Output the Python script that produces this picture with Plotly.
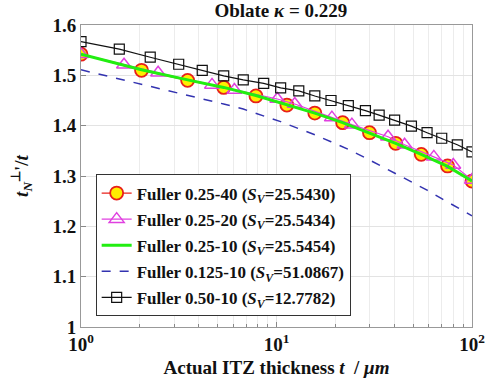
import plotly.graph_objects as go

# ---- data ----
t_c = [1, 2.04, 3.51, 5.37, 7.85, 11.3, 15.7, 21.8, 29.9, 40.7, 55, 75, 100]
y_c = [1.542, 1.510, 1.490, 1.476, 1.459, 1.441, 1.425, 1.406, 1.386, 1.365, 1.343, 1.320, 1.290]

t_tri = [1, 1.66, 2.48, 4.68, 6.09, 10.1, 12.4, 19.2, 24.3, 37.2, 45.2, 63.8, 80.2, 100]
y_tri = [1.542, 1.521, 1.505, 1.481, 1.471, 1.453, 1.443, 1.416, 1.402, 1.378, 1.362, 1.338, 1.322, 1.292]

t_g = [1, 2.04, 3.51, 5.37, 7.85, 11.3, 15.7, 21.8, 29.9, 40.7, 55, 75, 100]
y_g = [1.542, 1.511, 1.491, 1.476, 1.460, 1.442, 1.425, 1.406, 1.386, 1.365, 1.343, 1.319, 1.290]

t_sq = [1, 1.57, 2.26, 3.16, 4.17, 5.37, 6.76, 8.6, 10.5, 13.0, 15.7, 19.0, 23.3,
        28.5, 33.5, 40.2, 49.0, 58.9, 70.0, 84.1, 100]
y_sq = [1.567, 1.552, 1.536, 1.522, 1.510, 1.499, 1.491, 1.484, 1.475, 1.469, 1.459,
        1.450, 1.440, 1.430, 1.421, 1.411, 1.399, 1.386, 1.375, 1.362, 1.348]
y_d = [1.511, 1.493, 1.479, 1.465, 1.454, 1.443, 1.433, 1.420, 1.408, 1.394, 1.382,
       1.368, 1.353, 1.336, 1.322, 1.306, 1.289, 1.272, 1.255, 1.238, 1.221]

names = [
    "<b>Fuller 0.25-40 (<i>S</i><sub><i>V</i></sub>=25.5430)</b>",
    "<b>Fuller 0.25-20 (<i>S</i><sub><i>V</i></sub>=25.5434)</b>",
    "<b>Fuller 0.25-10 (<i>S</i><sub><i>V</i></sub>=25.5454)</b>",
    "<b>Fuller 0.125-10 (<i>S</i><sub><i>V</i></sub>=51.0867)</b>",
    "<b>Fuller 0.50-10 (<i>S</i><sub><i>V</i></sub>=12.7782)</b>",
]

FONT = "Liberation Serif"

fig = go.Figure()
fig.add_trace(go.Scatter(x=t_c, y=y_c, name=names[0], legendgroup="a", mode="lines+markers",
                         line=dict(color="#e8201a", width=1.2),
                         marker=dict(symbol="circle", size=13, color="#ffee00",
                                     line=dict(color="#e8201a", width=1.8))))
fig.add_trace(go.Scatter(x=t_tri, y=y_tri, name=names[1], legendgroup="b", mode="lines+markers",
                         line=dict(color="#e040e0", width=1.2),
                         marker=dict(symbol="triangle-up-open", size=13, color="#e040e0",
                                     line=dict(width=1.5))))
fig.add_trace(go.Scatter(x=t_g, y=y_g, name=names[2], legendgroup="c", mode="lines",
                         line=dict(color="#22ee11", width=3)))
fig.add_trace(go.Scatter(x=t_sq, y=y_d, name=names[3], legendgroup="d", mode="lines",
                         line=dict(color="#3333b0", width=1.5, dash="dash")))
fig.add_trace(go.Scatter(x=t_sq, y=y_sq, name=names[4], legendgroup="e", mode="lines+markers",
                         line=dict(color="#111111", width=1.2),
                         marker=dict(symbol="square-open", size=10, color="#111111",
                                     line=dict(width=1.2))))

fig.update_layout(
    width=497, height=387,
    margin=dict(l=81, r=16, t=25, b=60),
    paper_bgcolor="white", plot_bgcolor="white",
    font=dict(family=FONT, size=19, color="#111"),
    title=dict(text="<b>Oblate <i>κ</i> = 0.229</b>", x=0.565, xanchor="center",
               y=0.99, yanchor="top", font=dict(size=19)),
    showlegend=True,
    legend=dict(x=0.0375, y=0.505, xanchor="left", yanchor="top",
                bgcolor="white", bordercolor="#333", borderwidth=1,
                font=dict(family=FONT, size=17, color="#111"),
                tracegroupgap=1, itemwidth=30),
)
fig.update_xaxes(type="log", range=[0, 2],
                 tickvals=[1, 10, 100],
                 ticktext=["<b>10<sup>0</sup></b>", "<b>10<sup>1</sup></b>", "<b>10<sup>2</sup></b>"],
                 ticks="inside", ticklen=5, tickcolor="#888",
                 showgrid=True, gridcolor="#e3e3e3", gridwidth=1,
                 minor=dict(showgrid=True, gridcolor="#ececec", ticks="inside",
                            ticklen=3, tickcolor="#888", dtick="D1"),
                 showline=True, linecolor="#999", linewidth=1, mirror=True,
                 zeroline=False,
                 title=dict(text="<b>Actual ITZ thickness <i>t</i>  / <i>μm</i></b>",
                            font=dict(size=19), standoff=6))
fig.update_yaxes(range=[1.0, 1.6],
                 tickvals=[1.0, 1.1, 1.2, 1.3, 1.4, 1.5, 1.6],
                 ticktext=["<b>1</b>", "<b>1.1</b>", "<b>1.2</b>", "<b>1.3</b>",
                           "<b>1.4</b>", "<b>1.5</b>", "<b>1.6</b>"],
                 ticks="inside", ticklen=5, tickcolor="#888",
                 showgrid=True, gridcolor="#e3e3e3", gridwidth=1,
                 showline=True, linecolor="#999", linewidth=1, mirror=True,
                 zeroline=False,
                 title=dict(text="<b><i>t</i><sub><i>N</i></sub><sup>⊥</sup>'/<i>t</i></b>",
                            font=dict(size=19), standoff=18))

fig.write_html("out.html")
